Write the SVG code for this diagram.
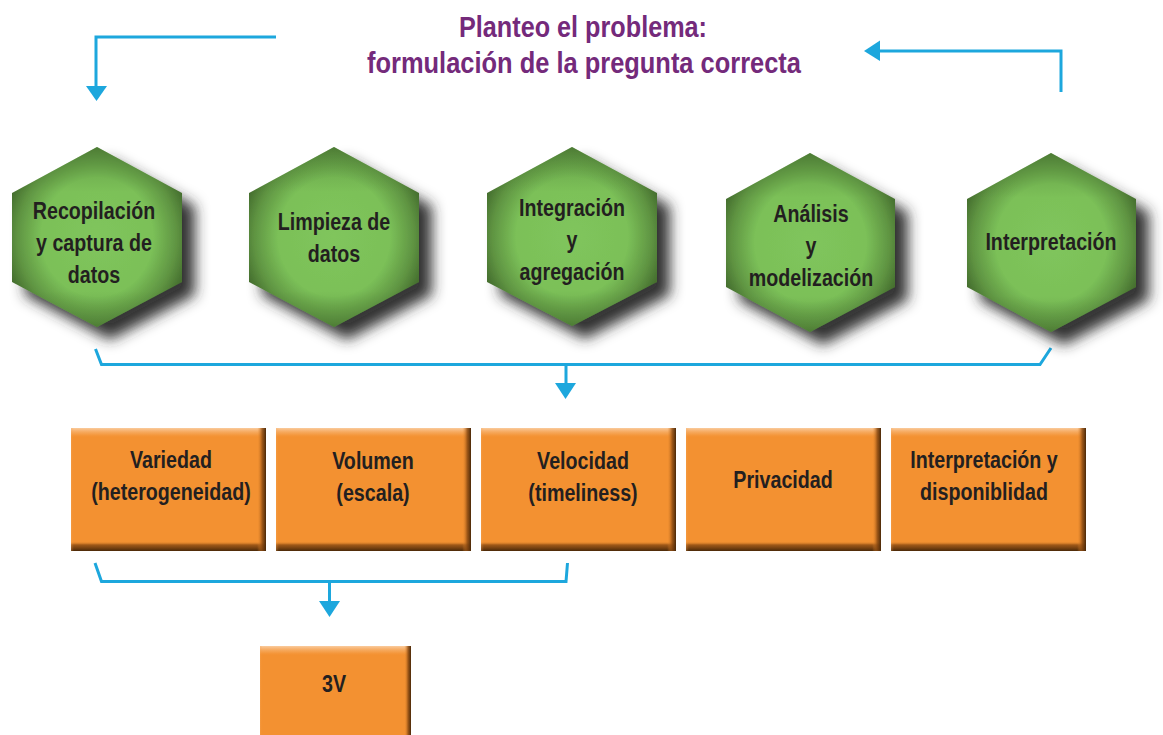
<svg xmlns="http://www.w3.org/2000/svg" width="1163" height="735" viewBox="0 0 1163 735">
  <defs>
    <style>
      .hex { fill: url(#hexGrad); filter: url(#shadow); }
      .hexBevel { fill: url(#hexEdge); }
      .box { fill: #f39131; }
      .boxV { fill: url(#boxV); }
      .boxH { fill: url(#boxH); }
      .lbl { font-family: "Liberation Sans", Arial, sans-serif; font-weight: bold; font-size: 24px; fill: #231f20; text-anchor: middle; }
      .title { font-family: "Liberation Sans", Arial, sans-serif; font-weight: bold; font-size: 29px; fill: #742a7b; text-anchor: middle; }
      .wire { fill: none; stroke: #1da7dd; stroke-width: 3; }
      .head { fill: #1da7dd; }
    </style>
    <radialGradient id="hexGrad" cx="0.5" cy="0.5" r="0.55">
      <stop offset="0" stop-color="#80c55c"/>
      <stop offset="0.6" stop-color="#7bc058"/>
      <stop offset="0.85" stop-color="#5f9442"/>
      <stop offset="1" stop-color="#46702f"/>
    </radialGradient>
    <linearGradient id="hexEdge" x1="0" y1="0" x2="0" y2="1">
      <stop offset="0" stop-color="#3f6a2a" stop-opacity="0.4"/>
      <stop offset="0.25" stop-color="#3f6a2a" stop-opacity="0"/>
      <stop offset="0.8" stop-color="#3f6a2a" stop-opacity="0"/>
      <stop offset="1" stop-color="#3f6a2a" stop-opacity="0.35"/>
    </linearGradient>
    <filter id="shadow" x="-20%" y="-20%" width="150%" height="150%">
      <feGaussianBlur in="SourceAlpha" stdDeviation="7"/>
      <feOffset dx="13" dy="13" result="b"/>
      <feFlood flood-color="#2a2a2a" flood-opacity="0.95"/>
      <feComposite in2="b" operator="in"/>
      <feMerge>
        <feMergeNode/>
        <feMergeNode in="SourceGraphic"/>
      </feMerge>
    </filter>
    <linearGradient id="boxV" x1="0" y1="0" x2="0" y2="1">
      <stop offset="0" stop-color="#fbd2aa" stop-opacity="0.9"/>
      <stop offset="0.05" stop-color="#f7b06a" stop-opacity="0.4"/>
      <stop offset="0.08" stop-color="#f39131" stop-opacity="0"/>
      <stop offset="0.92" stop-color="#f39131" stop-opacity="0"/>
      <stop offset="0.95" stop-color="#8a4a12" stop-opacity="0.8"/>
      <stop offset="1" stop-color="#4a2808" stop-opacity="1"/>
    </linearGradient>
    <linearGradient id="boxH" x1="0" y1="0" x2="1" y2="0">
      <stop offset="0" stop-color="#f7b06a" stop-opacity="0.3"/>
      <stop offset="0.015" stop-color="#f39131" stop-opacity="0"/>
      <stop offset="0.955" stop-color="#f39131" stop-opacity="0"/>
      <stop offset="0.98" stop-color="#8a4a12" stop-opacity="0.8"/>
      <stop offset="1" stop-color="#4a2808" stop-opacity="1"/>
    </linearGradient>
  </defs>

  <rect x="0" y="0" width="1163" height="735" fill="#ffffff"/>

  <g id="title">
    <text class="title" x="583" y="37" textLength="248" lengthAdjust="spacingAndGlyphs">Planteo el problema:</text>
    <text class="title" x="584" y="73" textLength="434" lengthAdjust="spacingAndGlyphs">formulación de la pregunta correcta</text>
  </g>

  <g id="connectors">
    <polyline class="wire" points="276,37 96,37 96,88"/>
    <polygon class="head" points="86,86 107,86 96.5,101"/>
    <polyline class="wire" points="1061,92 1061,51 878,51"/>
    <polygon class="head" points="864,51 880,40.5 880,61"/>
    <polyline class="wire" points="95.5,349 101.5,364.5 1040,364.5 1051,348"/>
    <line class="wire" x1="566" y1="364.5" x2="566" y2="385"/>
    <polygon class="head" points="555,383 576,383 565.5,399"/>
    <polyline class="wire" points="95,563 101.5,581.5 566,581.5 567.5,563"/>
    <line class="wire" x1="329.5" y1="581.5" x2="329.5" y2="603"/>
    <polygon class="head" points="319,601 340,601 329.5,617"/>
  </g>

  <g id="hex-recopilacion">
    <polygon class="hex" points="97,147 182,193 182,282 97,327 12,282 12,193"/>
    <polygon class="hexBevel" points="97,147 182,193 182,282 97,327 12,282 12,193"/>
    <text class="lbl" transform="scale(0.82,1)" x="114.6" y="219">Recopilación</text>
    <text class="lbl" transform="scale(0.82,1)" x="114.6" y="251">y captura de</text>
    <text class="lbl" transform="scale(0.82,1)" x="114.6" y="283">datos</text>
  </g>

  <g id="hex-limpieza">
    <polygon class="hex" points="334,147 419,193 419,282 334,327 249,282 249,193"/>
    <polygon class="hexBevel" points="334,147 419,193 419,282 334,327 249,282 249,193"/>
    <text class="lbl" transform="scale(0.82,1)" x="407.3" y="230">Limpieza de</text>
    <text class="lbl" transform="scale(0.82,1)" x="407.3" y="262">datos</text>
  </g>

  <g id="hex-integracion">
    <polygon class="hex" points="572,147 657,193 657,282 572,326 487,282 487,193"/>
    <polygon class="hexBevel" points="572,147 657,193 657,282 572,326 487,282 487,193"/>
    <text class="lbl" transform="scale(0.82,1)" x="697.6" y="216">Integración</text>
    <text class="lbl" transform="scale(0.82,1)" x="697.6" y="248">y</text>
    <text class="lbl" transform="scale(0.82,1)" x="697.6" y="280">agregación</text>
  </g>

  <g id="hex-analisis">
    <polygon class="hex" points="810,153 895,199 895,287 810,332 726,287 726,199"/>
    <polygon class="hexBevel" points="810,153 895,199 895,287 810,332 726,287 726,199"/>
    <text class="lbl" transform="scale(0.82,1)" x="989" y="222">Análisis</text>
    <text class="lbl" transform="scale(0.82,1)" x="989" y="254">y</text>
    <text class="lbl" transform="scale(0.82,1)" x="989" y="286">modelización</text>
  </g>

  <g id="hex-interpretacion">
    <polygon class="hex" points="1051,153 1136,199 1136,287 1051,332 967,287 967,199"/>
    <polygon class="hexBevel" points="1051,153 1136,199 1136,287 1051,332 967,287 967,199"/>
    <text class="lbl" transform="scale(0.82,1)" x="1281.7" y="250">Interpretación</text>
  </g>

  <g id="box-variedad">
    <rect class="box" x="71" y="428" width="195" height="123"/>
    <rect class="boxV" x="71" y="428" width="195" height="123"/>
    <rect class="boxH" x="71" y="428" width="195" height="123"/>
    <text class="lbl" transform="scale(0.82,1)" x="208.5" y="468">Variedad</text>
    <text class="lbl" transform="scale(0.82,1)" x="208.5" y="500">(heterogeneidad)</text>
  </g>

  <g id="box-volumen">
    <rect class="box" x="276" y="428" width="195" height="123"/>
    <rect class="boxV" x="276" y="428" width="195" height="123"/>
    <rect class="boxH" x="276" y="428" width="195" height="123"/>
    <text class="lbl" transform="scale(0.82,1)" x="454.9" y="469">Volumen</text>
    <text class="lbl" transform="scale(0.82,1)" x="454.9" y="501">(escala)</text>
  </g>

  <g id="box-velocidad">
    <rect class="box" x="481" y="428" width="195" height="123"/>
    <rect class="boxV" x="481" y="428" width="195" height="123"/>
    <rect class="boxH" x="481" y="428" width="195" height="123"/>
    <text class="lbl" transform="scale(0.82,1)" x="711" y="469">Velocidad</text>
    <text class="lbl" transform="scale(0.82,1)" x="711" y="501">(timeliness)</text>
  </g>

  <g id="box-privacidad">
    <rect class="box" x="686" y="428" width="195" height="123"/>
    <rect class="boxV" x="686" y="428" width="195" height="123"/>
    <rect class="boxH" x="686" y="428" width="195" height="123"/>
    <text class="lbl" transform="scale(0.82,1)" x="954.9" y="488">Privacidad</text>
  </g>

  <g id="box-disponibilidad">
    <rect class="box" x="891" y="428" width="195" height="123"/>
    <rect class="boxV" x="891" y="428" width="195" height="123"/>
    <rect class="boxH" x="891" y="428" width="195" height="123"/>
    <text class="lbl" transform="scale(0.82,1)" x="1200" y="468">Interpretación y</text>
    <text class="lbl" transform="scale(0.82,1)" x="1200" y="500">disponiblidad</text>
  </g>

  <g id="box-3v">
    <rect class="box" x="260" y="646" width="151" height="123"/>
    <rect class="boxV" x="260" y="646" width="151" height="123"/>
    <rect class="boxH" x="260" y="646" width="151" height="123"/>
    <text class="lbl" transform="scale(0.82,1)" x="407.3" y="692">3V</text>
  </g>
</svg>
